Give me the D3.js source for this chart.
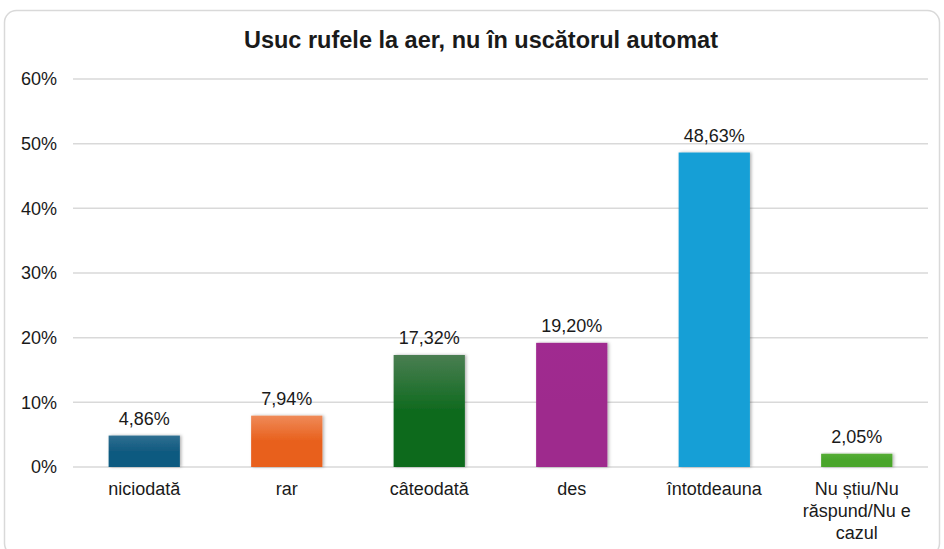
<!DOCTYPE html>
<html>
<head>
<meta charset="utf-8">
<script src="https://cdn.jsdelivr.net/npm/d3@7"></script>
<style>
  body { margin: 0; background: #fff; }
  text { font-family: "Liberation Sans", Arial, sans-serif; fill: #1a1a1a; }
</style>
</head>
<body>
<script>
// Chart data
let categories = ["niciodată", "rar", "câteodată", "des", "întotdeauna", "Nu știu/Nu răspund/Nu e cazul"];
let values = [4.86, 7.94, 17.32, 19.20, 48.63, 2.05];
let yTicks = [0, 10, 20, 30, 40, 50, 60];
// wrapped x labels
let xLabelLines = [["niciodată"], ["rar"], ["câteodată"], ["des"], ["întotdeauna"], ["Nu știu/Nu", "răspund/Nu e", "cazul"]];
// top / bottom gradient colours for each bar
let barTop = ["#2f6f91", "#ef8a58", "#4a7e52", "#a02c90", "#129fd6", "#55ad35"];
let barBottom = ["#115a80", "#e8601c", "#0f6a1e", "#9e2a8d", "#129fd6", "#4aa52b"];

let svgWidth = 944;
let svgHeight = 549;

let margin = { top: 79, left: 73 };
let plotHeight = 388;
let plotWidth = 855;

let svg = d3.select("body")
    .append("svg")
    .attr("width", svgWidth)
    .attr("height", svgHeight);

// outer frame
svg.append("rect")
    .attr("x", 4.5)
    .attr("y", 10.5)
    .attr("width", 935)
    .attr("height", 545)
    .attr("rx", 12)
    .attr("fill", "#fff")
    .attr("stroke", "#d9d9d9")
    .attr("stroke-width", 1.5);

let defs = svg.append("defs");
categories.forEach((c, i) => {
    let g = defs.append("linearGradient")
        .attr("id", "grad" + i)
        .attr("x1", 0).attr("y1", 0).attr("x2", 0).attr("y2", 1);
    g.append("stop").attr("offset", "0%").attr("stop-color", barTop[i]);
    g.append("stop").attr("offset", "50%").attr("stop-color", barBottom[i]);
    g.append("stop").attr("offset", "100%").attr("stop-color", barBottom[i]);
});
let shadow = defs.append("filter").attr("id", "shadow")
    .attr("x", "-10%").attr("y", "-10%").attr("width", "130%").attr("height", "130%");
shadow.append("feDropShadow")
    .attr("dx", 1.5).attr("dy", 0).attr("stdDeviation", 1.5)
    .attr("flood-color", "#000").attr("flood-opacity", 0.3);

// title
svg.append("text")
    .attr("x", 481)
    .attr("y", 48)
    .attr("text-anchor", "middle")
    .attr("font-size", "23.5px")
    .attr("font-weight", "bold")
    .text("Usuc rufele la aer, nu în uscătorul automat");

let chartGroup = svg.append("g")
    .attr("transform", `translate(${margin.left}, ${margin.top})`);

let xScale = d3.scaleBand()
    .domain(categories)
    .range([0, plotWidth])
    .paddingInner(0.5)
    .paddingOuter(0.25);

let yScale = d3.scaleLinear()
    .domain([0, 60])
    .range([plotHeight, 0]);

// gridlines
chartGroup.selectAll(".grid")
    .data(yTicks)
    .enter()
    .append("line")
    .attr("x1", 0)
    .attr("x2", plotWidth)
    .attr("y1", d => yScale(d))
    .attr("y2", d => yScale(d))
    .attr("stroke", "#d9d9d9")
    .attr("stroke-width", 1.5);

// y axis labels
let yAxis = d3.axisLeft(yScale)
    .tickValues(yTicks)
    .tickSize(0)
    .tickPadding(16)
    .tickFormat(d => d + "%");
let yAxisG = chartGroup.append("g").call(yAxis);
yAxisG.select(".domain").remove();
yAxisG.selectAll("text")
    .attr("font-size", "18px")
    .attr("font-family", "Liberation Sans, Arial, sans-serif")
    .attr("fill", "#1a1a1a");

// bars
chartGroup.selectAll(".bar")
    .data(values)
    .enter()
    .append("rect")
    .attr("x", (d, i) => xScale(categories[i]))
    .attr("y", d => yScale(d))
    .attr("width", xScale.bandwidth())
    .attr("height", d => plotHeight - yScale(d))
    .attr("fill", (d, i) => `url(#grad${i})`)
    .attr("filter", "url(#shadow)");

// value labels
let locale = d3.formatLocale({ decimal: ",", thousands: ".", grouping: [3], currency: ["", ""] });
let fmt = locale.format(".2f");
chartGroup.selectAll(".valueLabel")
    .data(values)
    .enter()
    .append("text")
    .attr("x", (d, i) => xScale(categories[i]) + xScale.bandwidth() / 2)
    .attr("y", d => yScale(d) - 11)
    .attr("text-anchor", "middle")
    .attr("font-size", "18px")
    .text(d => fmt(d) + "%");

// x labels
let xLabels = chartGroup.selectAll(".xLabel")
    .data(categories)
    .enter()
    .append("text")
    .attr("x", d => xScale(d) + xScale.bandwidth() / 2)
    .attr("y", plotHeight + 28)
    .attr("text-anchor", "middle")
    .attr("font-size", "18px");
xLabels.each(function(d, i) {
    let t = d3.select(this);
    xLabelLines[i].forEach((line, j) => {
        t.append("tspan")
            .attr("x", xScale(d) + xScale.bandwidth() / 2)
            .attr("dy", j === 0 ? 0 : 22)
            .text(line);
    });
});
</script>
</body>
</html>
